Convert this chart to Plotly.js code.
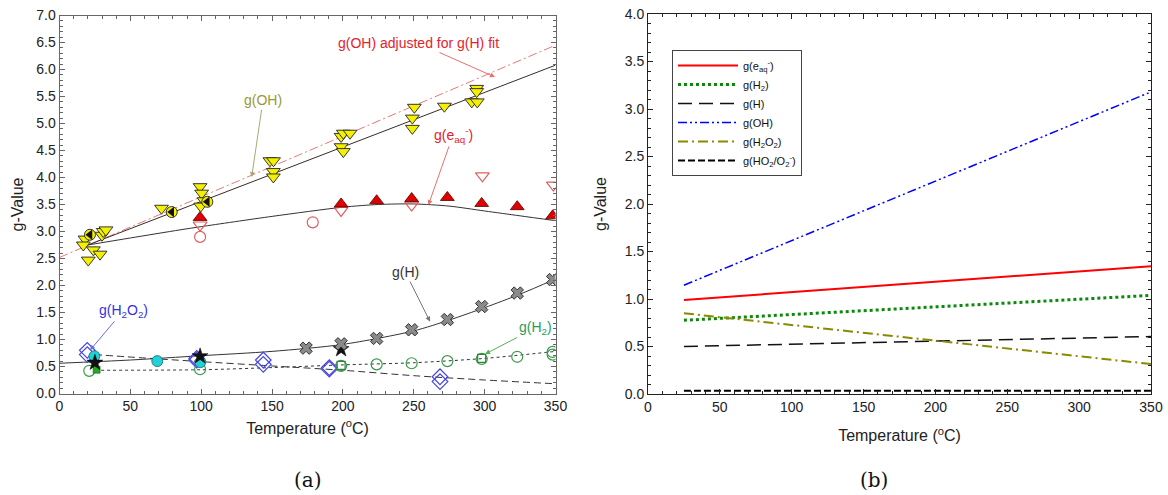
<!DOCTYPE html>
<html>
<head>
<meta charset="utf-8">
<script src="https://cdn.plot.ly/plotly-3.0.1.min.js"></script>
<style>html,body{margin:0;padding:0;background:#fff}#chart{width:1168px;height:495px}</style>
</head>
<body>
<div id="chart"></div>
<script>
// ---------- Panel (a): measured g-values ----------
// g(OH) data, yellow down-triangles
const ohT = [18, 16.8, 20.3, 23.9, 28.6, 30, 30.9, 32.8, 72, 99.2, 100.3, 102, 99.6, 148.5, 151, 150.9, 150.9, 198.7, 200.3, 205, 198.7, 200.3, 250.4, 249, 249, 271.6, 294.4, 294.4, 290.9, 294.8];
const ohG = [2.86, 2.75, 2.47, 2.66, 2.58, 2.93, 3.0, 3.03, 3.43, 3.83, 3.71, 3.57, 3.47, 4.31, 4.31, 4.11, 4.01, 4.76, 4.82, 4.82, 4.57, 4.48, 5.30, 5.10, 4.91, 5.32, 5.65, 5.59, 5.40, 5.40];
// g(OH) half-filled circles
const ohHalfT = [21.5, 79.2, 104.3];
const ohHalfG = [2.94, 3.36, 3.55];
// g(OH) fit lines
const ohFitT = [20, 350];
const ohFitG = [2.75, 6.08];
const ohAdjT = [0, 350];
const ohAdjG = [2.52, 6.45];

// g(e_aq) data
const eFilledT = [99.2, 198.7, 223.8, 248.5, 273.7, 297.9, 323, 348];
const eFilledG = [3.26, 3.51, 3.57, 3.61, 3.63, 3.52, 3.46, 3.29];
const eOpenTriT = [99.2, 198.7, 248.5, 298.4, 348.5];
const eOpenTriG = [3.12, 3.39, 3.49, 4.03, 3.86];
const eCircT = [99.2, 178.7];
const eCircG = [2.90, 3.17];
const eFitT = [20, 50, 85, 100, 150, 200, 225, 250, 275, 300, 325, 350];
const eFitG = [2.75, 2.88, 3.03, 3.09, 3.28, 3.45, 3.50, 3.51, 3.47, 3.38, 3.29, 3.20];

// g(H) data
const hT = [174, 198.7, 223.8, 248.5, 273.7, 297.9, 323, 348];
const hG = [0.84, 0.92, 1.02, 1.18, 1.37, 1.61, 1.86, 2.11];
const starT = [25, 99.2, 198.7];
const starG = [0.57, 0.69, 0.82];
const hFitT = [0, 50, 100, 150, 200, 250, 275, 300, 325, 350];
const hFitG = [0.56, 0.62, 0.70, 0.78, 0.91, 1.16, 1.36, 1.59, 1.84, 2.12];

// g(H2) data
const h2T = [21, 99.2, 198.7, 223.8, 248.5, 273.7, 297.9, 323, 348, 348];
const h2G = [0.42, 0.45, 0.51, 0.54, 0.56, 0.60, 0.64, 0.68, 0.77, 0.72];
const h2SqT = [26.2];
const h2SqG = [0.44];
const h2OpenSqT = [198.7, 297.9];
const h2OpenSqG = [0.52, 0.65];
const h2FitT = [25, 100, 150, 200, 250, 300, 350];
const h2FitG = [0.43, 0.44, 0.48, 0.53, 0.57, 0.65, 0.78];

// g(H2O2) data
const h2o2T = [19.6, 19.6, 96.8, 96.8, 143.8, 143.8, 190.4, 190.4, 268.5, 268.5];
const h2o2G = [0.80, 0.72, 0.65, 0.62, 0.62, 0.54, 0.48, 0.45, 0.31, 0.22];
const cyanT = [24.6, 69, 99.4];
const cyanG = [0.69, 0.60, 0.58];
const h2o2FitT = [25, 70, 100, 150, 200, 250, 300, 350];
const h2o2FitG = [0.72, 0.64, 0.59, 0.51, 0.43, 0.33, 0.25, 0.18];

// ---------- Panel (b): model g-values ----------
const bT = [25, 350];
const bEaq = [0.99, 1.345];
const bH2 = [0.776, 1.038];
const bH = [0.50, 0.605];
const bOH = [1.145, 3.18];
const bH2O2 = [0.85, 0.315];
const bHO2 = [0.035, 0.035];
const bNames = ['g(e<sub>aq</sub><sup>-</sup>)', 'g(H<sub>2</sub>)', 'g(H)', 'g(OH)', 'g(H<sub>2</sub>O<sub>2</sub>)', 'g(HO<sub>2</sub>/O<sub>2</sub><sup>-</sup>)'];

const FONT = 'Liberation Sans, Arial, sans-serif';

function pts(x, y, marker) {
  return {type: 'scatter', mode: 'markers', x: x, y: y, xaxis: 'x', yaxis: 'y', marker: marker, showlegend: false, hoverinfo: 'x+y'};
}
function fit(x, y, line) {
  return {type: 'scatter', mode: 'lines', x: x, y: y, xaxis: 'x', yaxis: 'y', line: line, showlegend: false, hoverinfo: 'skip'};
}

const traces = [
  fit(ohAdjT, ohAdjG, {color: '#e87878', width: 1, dash: '9px,3px,2px,3px'}),
  fit(ohFitT, ohFitG, {color: '#3a2a2a', width: 1}),
  fit(eFitT, eFitG, {color: '#333', width: 1, shape: 'spline', smoothing: 0.8}),
  fit(hFitT, hFitG, {color: '#333', width: 1, shape: 'spline', smoothing: 0.8}),
  fit(h2FitT, h2FitG, {color: '#333', width: 1, dash: 'dot', shape: 'spline', smoothing: 0.8}),
  fit(h2o2FitT, h2o2FitG, {color: '#333', width: 1, dash: '7px,4px', shape: 'spline', smoothing: 0.8}),
  pts(h2o2T, h2o2G, {symbol: 'diamond-open', size: 12, color: '#4646e0', line: {width: 1.2}}),
  pts(h2T, h2G, {symbol: 'circle-open', size: 11, color: '#3a9a4a', line: {width: 1.2}}),
  pts(h2OpenSqT, h2OpenSqG, {symbol: 'square-open', size: 8, color: '#2a8a3a', line: {width: 1.2}}),
  pts(h2SqT, h2SqG, {symbol: 'square', size: 7, color: '#22aa22', line: {width: 0.5, color: '#115511'}}),
  pts(cyanT, cyanG, {symbol: 'circle', size: 11, color: '#22d0d8', line: {width: 0.8, color: '#226666'}}),
  pts(starT, starG, {symbol: 'star', size: 12, color: '#111', line: {width: 0.5, color: '#000'}}),
  pts(hT, hG, {symbol: 'x', size: 11, color: '#8a8a8a', line: {width: 1, color: '#333'}}),
  pts(eCircT, eCircG, {symbol: 'circle-open', size: 11, color: '#e06060', line: {width: 1.2}}),
  pts(eOpenTriT, eOpenTriG, {symbol: 'triangle-down-open', size: 12, color: '#e06060', line: {width: 1.2}}),
  pts(eFilledT, eFilledG, {symbol: 'triangle-up', size: 12, color: '#e00000', line: {width: 0.8, color: '#550000'}}),
  pts(ohT, ohG, {symbol: 'triangle-down', size: 12, color: '#f5f000', line: {width: 0.9, color: '#222'}}),
  // half-filled circles: yellow base, black left half drawn as a half-disc symbol
  pts(ohHalfT, ohHalfG, {symbol: 'circle', size: 11, color: '#f5f000', line: {width: 0.9, color: '#222'}}),
  pts(ohHalfT, ohHalfG, {symbol: 'triangle-left', size: 9, color: '#111', line: {width: 0}})
];

const bStyles = [
  {color: '#ff0000', width: 2},
  {color: '#0a8a0a', width: 3, dash: 'dot'},
  {color: '#111', width: 1.5, dash: '14px,7px'},
  {color: '#0000ff', width: 1.5, dash: '9px,3px,2px,3px,2px,3px'},
  {color: '#8a8a00', width: 2, dash: '10px,4px,2px,4px'},
  {color: '#000', width: 2, dash: '7px,3px'}
];
[bEaq, bH2, bH, bOH, bH2O2, bHO2].forEach(function (ys, i) {
  traces.push({type: 'scatter', mode: 'lines', x: bT, y: ys, xaxis: 'x2', yaxis: 'y2', name: bNames[i], line: bStyles[i], showlegend: true});
});

function ax(domain, range, dtick, minorTick, color, extra) {
  return Object.assign({
    domain: domain, range: range, dtick: dtick, tick0: 0, ticks: 'inside', ticklen: 5, tickwidth: 1,
    showline: true, mirror: 'allticks', zeroline: false, showgrid: false, fixedrange: true,
    linecolor: color, tickcolor: color,
    tickfont: {family: FONT, size: 14, color: '#222'},
    minor: {dtick: minorTick, ticks: 'inside', ticklen: 3, tickcolor: color, showgrid: false}
  }, extra || {});
}

const titleFont = {family: FONT, size: 16, color: '#222'};
const layout = {
  width: 1168, height: 495,
  margin: {l: 0, r: 0, t: 0, b: 0},
  paper_bgcolor: '#fff', plot_bgcolor: '#fff',
  showlegend: true,
  xaxis: ax([59.5 / 1168, 555.5 / 1168], [0, 350], 50, 10, '#666', {anchor: 'y', title: {text: 'Temperature (<sup>o</sup>C)', font: titleFont, standoff: 9}}),
  yaxis: ax([(495 - 393.5) / 495, (495 - 15.5) / 495], [0, 7], 0.5, 0.1, '#666', {anchor: 'x', tickformat: '.1f', title: {text: 'g-Value', font: titleFont, standoff: 8}}),
  xaxis2: ax([648 / 1168, 1151 / 1168], [0, 350], 50, 10, '#222', {anchor: 'y2', title: {text: 'Temperature (<sup>o</sup>C)', font: titleFont, standoff: 16}}),
  yaxis2: ax([(495 - 394) / 495, (495 - 14) / 495], [0, 4], 0.5, 0.1, '#222', {anchor: 'x2', tickformat: '.1f', title: {text: 'g-Value', font: titleFont, standoff: 14}}),
  legend: {
    x: 672 / 1168, y: 1 - 50 / 495, xanchor: 'left', yanchor: 'top',
    bgcolor: '#fff', bordercolor: '#444', borderwidth: 1,
    font: {family: FONT, size: 11, color: '#111'}, itemwidth: 60, tracegroupgap: 0
  },
  annotations: [
    {xref: 'x', yref: 'y', axref: 'x', ayref: 'y', x: 135.6, y: 4.01, ax: 143.6, ay: 5.43, text: 'g(OH)', showarrow: true, arrowhead: 2, arrowsize: 1, arrowwidth: 1, arrowcolor: '#a8a878', font: {family: FONT, size: 14, color: '#999933'}},
    {xref: 'x', yref: 'y', axref: 'x', ayref: 'y', x: 307.3, y: 5.86, ax: 253, ay: 6.49, text: 'g(OH) adjusted for g(H) fit', showarrow: true, arrowhead: 2, arrowsize: 1, arrowwidth: 1, arrowcolor: '#e87070', font: {family: FONT, size: 14, color: '#e8202a'}},
    {xref: 'x', yref: 'y', axref: 'x', ayref: 'y', x: 260.3, y: 3.49, ax: 277.7, ay: 4.79, text: 'g(e<sub>aq</sub><sup>-</sup>)', showarrow: true, arrowhead: 2, arrowsize: 1, arrowwidth: 1, arrowcolor: '#e87070', font: {family: FONT, size: 14, color: '#e8202a'}},
    {xref: 'x', yref: 'y', axref: 'x', ayref: 'y', x: 261.5, y: 1.33, ax: 244, ay: 2.25, text: 'g(H)', showarrow: true, arrowhead: 2, arrowsize: 1, arrowwidth: 1, arrowcolor: '#777', font: {family: FONT, size: 14, color: '#333'}},
    {xref: 'x', yref: 'y', axref: 'x', ayref: 'y', x: 300.3, y: 0.73, ax: 335.6, ay: 1.21, text: 'g(H<sub>2</sub>)', showarrow: true, arrowhead: 2, arrowsize: 1, arrowwidth: 1, arrowcolor: '#5ab05a', font: {family: FONT, size: 14, color: '#2e9a5a'}},
    {xref: 'x', yref: 'y', axref: 'x', ayref: 'y', x: 21.5, y: 0.80, ax: 45, ay: 1.53, text: 'g(H<sub>2</sub>O<sub>2</sub>)', showarrow: true, arrowhead: 2, arrowsize: 1, arrowwidth: 1, arrowcolor: '#6a6ae8', font: {family: FONT, size: 14, color: '#3333dd'}},
    {xref: 'paper', yref: 'paper', x: 308 / 1168, y: 1 - 480 / 495, xanchor: 'center', yanchor: 'middle', text: '(a)', showarrow: false, font: {family: 'DejaVu Serif, Liberation Serif, serif', size: 20, color: '#111'}},
    {xref: 'paper', yref: 'paper', x: 874 / 1168, y: 1 - 480 / 495, xanchor: 'center', yanchor: 'middle', text: '(b)', showarrow: false, font: {family: 'DejaVu Serif, Liberation Serif, serif', size: 20, color: '#111'}}
  ]
};

Plotly.newPlot('chart', traces, layout, {staticPlot: true, displayModeBar: false});
</script>
</body>
</html>
